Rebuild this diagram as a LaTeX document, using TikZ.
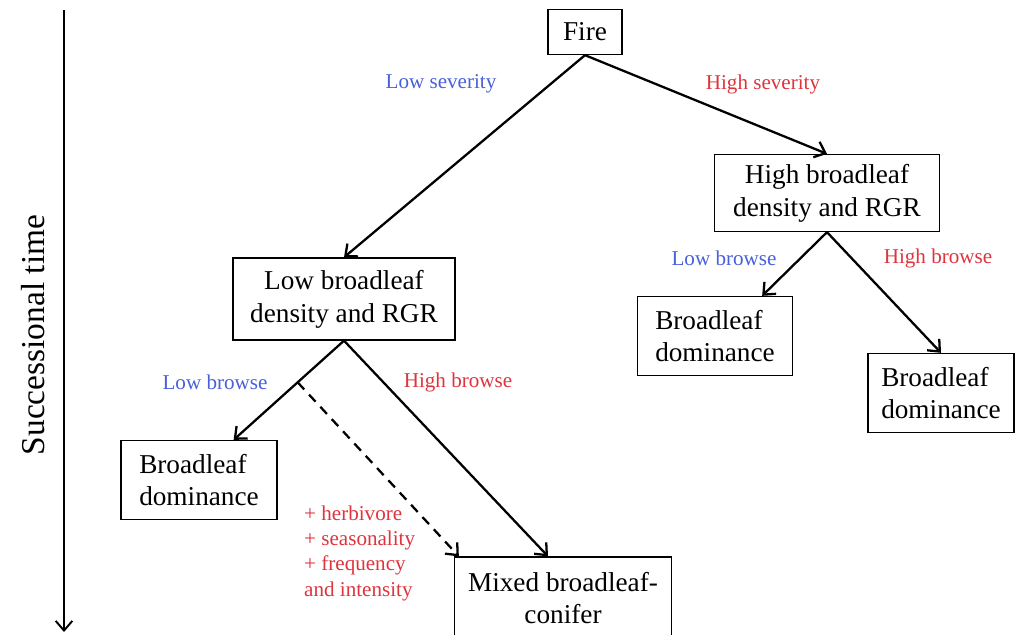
\documentclass[tikz,border=0pt]{standalone}
\usepackage{fontspec}
\setmainfont{Liberation Serif}
\usetikzlibrary{positioning, arrows.meta, calc}
\definecolor{lowblue}{RGB}{72,96,218}
\definecolor{highred}{RGB}{222,52,62}

\begin{document}
\begin{tikzpicture}[x=0.2mm, y=-0.2mm,
      box/.style={rectangle, draw, line width=0.75pt, inner sep=2pt,
        font=\fontsize{15.5}{18.7}\selectfont, align=center},
      bdbox/.style={box, align=left, minimum height=1.58cm},
      lbl/.style={font=\fontsize{12}{14.4}\selectfont},
      arr/.style={-{Straight Barb[length=5.5pt, width=9.5pt]}, draw,
        line width=1.3pt}
    ]
    \useasboundingbox (0,0) rectangle (1016,634);
    % === Time axis ===
    \coordinate (ttop) at (64,10);
    \coordinate (tbot) at (64,632);
    \draw[arr, line width=1.1pt] (ttop) -- (tbot);
    \node[font=\fontsize{19}{22}\selectfont, rotate=90] (tlbl) at (33,335)
    {Successional time};
    % === Boxes ===
    \node[box, minimum width=1.48cm, minimum height=0.9cm] (fire) at (585,32)
    {Fire};
    \node[box, minimum width=4.5cm, minimum height=1.54cm] (hbd) at (827,193)
    {High broadleaf\\density and RGR};
    \node[box, minimum width=4.44cm, minimum height=1.64cm] (lbd) at (344,299)
    {Low broadleaf\\density and RGR};
    \node[bdbox, minimum width=3.1cm] (bdm) at (715,336)
    {Broadleaf\\dominance};
    \node[bdbox, minimum width=2.92cm] (bdr) at (941,393)
    {Broadleaf\\dominance};
    \node[bdbox, minimum width=3.12cm] (bdl) at (199,480)
    {Broadleaf\\dominance};
    \node[box, minimum width=4.34cm, minimum height=1.64cm] (mix) at (563,598)
    {Mixed broadleaf-\\conifer};
    % arrow targets
    \coordinate (bdmtop) at ($(bdm.north east)+(-31,0)$);
    \coordinate (bdltop) at ($(bdl.north east)+(-44,0)$);
    \coordinate (mixtop) at ($(mix.north)+(-15,0)$);
    \coordinate (mixtl) at ($(mix.north west)+(5,0)$);
    % === Branches ===
    \draw[arr] (fire.south) -- (lbd.north);
    \draw[arr] (fire.south) -- (hbd.north);
    \draw[arr] (hbd.south) -- (bdmtop);
    \draw[arr] (hbd.south) -- (bdr.north);
    \draw[arr] (lbd.south) -- (bdltop);
    \draw[arr] (lbd.south) -- (mixtop);
    \coordinate (split) at ($(lbd.south)!0.42!(bdltop)$);
    \draw[arr, dash pattern=on 5.5pt off 4pt] (split) -- (mixtl);
    % === Labels ===
    \node[lbl, lowblue] (lsev) at (441,84) {Low severity};
    \node[lbl, highred] (hsev) at (763,84) {High severity};
    \node[lbl, lowblue] (lbr1) at (724,258) {Low browse};
    \node[lbl, highred] (hbr1) at (938,258) {High browse};
    \node[lbl, lowblue] (lbr2) at (215,382) {Low browse};
    \node[lbl, highred] (hbr2) at (458,382) {High browse};
    \node[lbl, highred, align=left, anchor=west] (extra) at (298,553)
    {+ herbivore\\+ seasonality\\+ frequency\\and intensity};
  \end{tikzpicture}
\end{document}
